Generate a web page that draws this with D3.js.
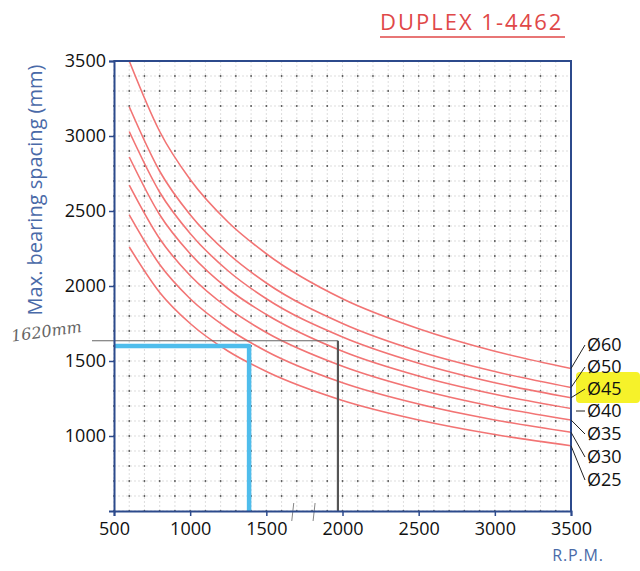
<!DOCTYPE html>
<html>
<head>
<meta charset="utf-8">
<script src="https://cdn.jsdelivr.net/npm/d3@7"></script>
<style>
  body { margin: 0; background: #fff; }
  text { font-family: "Open Sans", "Noto Sans", sans-serif; }
</style>
</head>
<body>
<div id="chart"></div>
<script>
const width = 640;
const height = 571;

// data
const rpm = [600, 800, 1000, 1250, 1500, 2000, 2500, 3000, 3500];
const diameters = ["Ø60", "Ø50", "Ø45", "Ø40", "Ø35", "Ø30", "Ø25"];
const spacing = [
  [3500, 3030, 2710, 2425, 2215, 1915, 1715, 1565, 1450],
  [3195, 2765, 2475, 2215, 2020, 1750, 1565, 1430, 1323],
  [3030, 2625, 2350, 2100, 1915, 1660, 1485, 1355, 1255],
  [2860, 2475, 2215, 1980, 1810, 1565, 1400, 1278, 1183],
  [2673, 2315, 2070, 1852, 1690, 1465, 1310, 1195, 1107],
  [2475, 2143, 1915, 1715, 1565, 1355, 1213, 1107, 1025],
  [2260, 1957, 1750, 1565, 1430, 1237, 1107, 1010, 935]
];
const labelY = [345, 367, 389, 411, 434, 457, 480];
const xTicks = [500, 1000, 1500, 2000, 2500, 3000, 3500];
const yTicks = [1000, 1500, 2000, 2500, 3000, 3500];

// hand annotations
const blueMark = { rpm: 1400, mm: 1600 };
const grayMark = { rpm: 1970, mm: 1635 };

const margin = { left: 114, right: 69, top: 61, bottom: 60 };

const svg = d3.select("#chart").append("svg")
  .attr("width", width)
  .attr("height", height);

const x = d3.scaleLinear().domain([500, 3500]).range([margin.left, width - margin.right]);
const y = d3.scaleLinear().domain([500, 3500]).range([height - margin.bottom, margin.top]);

// grid
const grid = svg.append("g");
const gridX = d3.range(500, 3501, 100);
const gridY = d3.range(500, 3501, 100);
grid.selectAll("line.gx").data(gridX).enter().append("line")
  .attr("x1", d => x(d)).attr("x2", d => x(d))
  .attr("y1", y(500)).attr("y2", y(3500))
  .attr("stroke", "#c8c8c8").attr("stroke-width", 0.6).attr("stroke-dasharray", "2,2");
grid.selectAll("line.gy").data(gridY).enter().append("line")
  .attr("y1", d => y(d)).attr("y2", d => y(d))
  .attr("x1", x(500)).attr("x2", x(3500))
  .attr("stroke", "#c8c8c8").attr("stroke-width", 0.6).attr("stroke-dasharray", "2,2");
const dots = [];
gridX.forEach(a => gridY.forEach(b => dots.push([a, b])));
grid.selectAll("circle").data(dots).enter().append("circle")
  .attr("cx", d => x(d[0])).attr("cy", d => y(d[1]))
  .attr("r", 0.9).attr("fill", "#555");

// curves
const line = d3.line()
  .x((d, i) => x(rpm[i]))
  .y(d => y(d))
  .curve(d3.curveMonotoneX);

svg.append("g").selectAll("path")
  .data(spacing).enter().append("path")
  .attr("d", line)
  .attr("fill", "none")
  .attr("stroke", "#f27474")
  .attr("stroke-width", 1.6);

// annotation lines
svg.append("path")
  .attr("d", `M${x(500) - 22},${y(grayMark.mm)}H${x(grayMark.rpm)}`)
  .attr("stroke", "#666").attr("stroke-width", 1).attr("fill", "none");
svg.append("path")
  .attr("d", `M${x(grayMark.rpm)},${y(grayMark.mm)}V${y(500)}`)
  .attr("stroke", "#555").attr("stroke-width", 2.2).attr("fill", "none");
svg.append("path")
  .attr("d", `M${x(500)},${y(blueMark.mm)}H${x(blueMark.rpm) - 2}V${y(500)}`)
  .attr("stroke", "#4fbdec").attr("stroke-width", 4.5).attr("fill", "none")
  .attr("stroke-linejoin", "round");

svg.append("text")
  .attr("transform", `translate(12,${y(grayMark.mm) + 1}) rotate(-8)`)
  .attr("font-size", 16).attr("font-style", "italic")
  .attr("fill", "#666")
  .style("font-family", "'DejaVu Serif', serif")
  .text("1620mm");

// hand strokes near x axis
svg.append("g").selectAll("line").data([1680, 1820]).enter().append("line")
  .attr("x1", d => x(d)).attr("x2", d => x(d) - 2)
  .attr("y1", y(500) - 8).attr("y2", y(500) + 10)
  .attr("stroke", "#777").attr("stroke-width", 0.9);

// axes
const axisColor = "#2c4a8c";
const xAxis = svg.append("g")
  .attr("transform", `translate(0,${y(500)})`)
  .call(d3.axisBottom(x).tickValues(xTicks).tickSize(5).tickPadding(4).tickFormat(d3.format("d")));
const yAxis = svg.append("g")
  .attr("transform", `translate(${x(500)},0)`)
  .call(d3.axisLeft(y).tickValues(yTicks).tickSize(5).tickPadding(3).tickFormat(d3.format("d")));
[xAxis, yAxis].forEach(g => {
  g.select(".domain").attr("stroke", axisColor).attr("stroke-width", 2);
  g.selectAll(".tick line").attr("stroke", axisColor).attr("stroke-width", 1.5);
  g.selectAll("text").attr("font-size", 18).attr("fill", "#111")
    .style("font-family", "'Open Sans', sans-serif");
});
xAxis.selectAll("text").attr("dy", "0.85em");

// top and right border
svg.append("path")
  .attr("d", `M${x(500)},${y(3500)}H${x(3500)}V${y(500)}`)
  .attr("stroke", axisColor).attr("stroke-width", 2).attr("fill", "none");

// legend
svg.append("rect")
  .attr("x", 576).attr("y", 372).attr("width", 64).attr("height", 31)
  .attr("rx", 4).attr("fill", "#f6f22a");

const legend = svg.append("g");
diameters.forEach((d, i) => {
  const endY = y(spacing[i][spacing[i].length - 1]);
  const ly = labelY[i];
  const x0 = i === 3 ? x(3500) + 5 : x(3500);
  legend.append("line")
    .attr("x1", x0).attr("y1", i === 3 ? ly : endY)
    .attr("x2", 585).attr("y2", ly)
    .attr("stroke", "#222").attr("stroke-width", 1);
  legend.append("text")
    .attr("x", 587).attr("y", ly).attr("dy", "0.36em")
    .attr("font-size", 18).attr("fill", "#111")
    .text(d);
});

// titles
svg.append("text")
  .attr("x", 380).attr("y", 30)
  .attr("font-size", 22).attr("fill", "#e04848")
  .attr("letter-spacing", 2)
  .text("DUPLEX 1-4462");
svg.append("line")
  .attr("x1", 380).attr("x2", 565).attr("y1", 37).attr("y2", 37)
  .attr("stroke", "#e04848").attr("stroke-width", 1.5);

svg.append("text")
  .attr("transform", `translate(42,190) rotate(-90)`)
  .attr("text-anchor", "middle")
  .attr("font-size", 20).attr("fill", "#4a6aa8")
  .text("Max. bearing spacing (mm)");

svg.append("text")
  .attr("x", 578).attr("y", 561)
  .attr("text-anchor", "middle")
  .attr("font-size", 16).attr("fill", "#4a6aa8")
  .attr("letter-spacing", 0.8)
  .text("R.P.M.");
</script>
</body>
</html>
